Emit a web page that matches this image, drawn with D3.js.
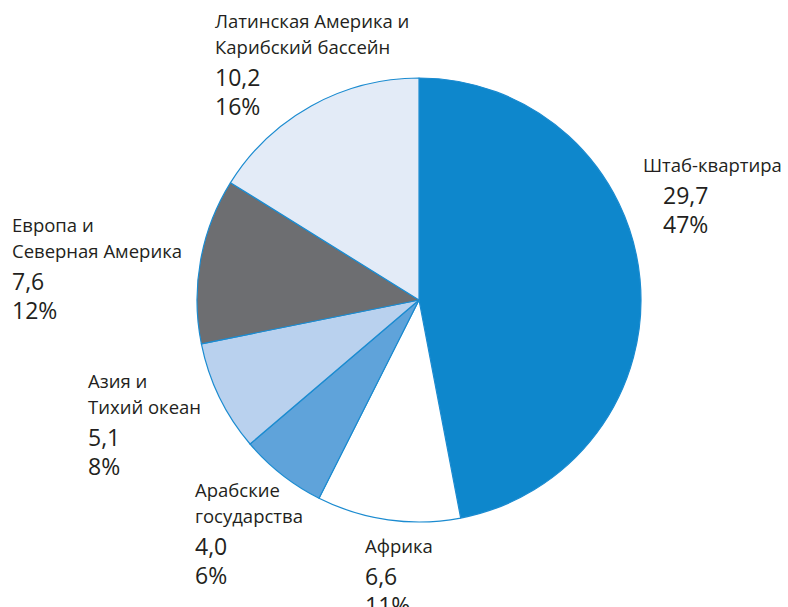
<!DOCTYPE html>
<html>
  <head>
    <meta charset="utf-8">
    <title>Pie</title>
    <script src="https://cdn.jsdelivr.net/npm/d3@7"></script>
    <style>
      body { margin: 0; background: #fff; }
      text { font-family: "Open Sans", "Noto Sans", sans-serif; fill: #231f20; }
    </style>
  </head>
  <body>
    <div id="vis"></div>
    <script>
      // data, clockwise from 12 o'clock
      var regions = [
        ['Штаб-квартира'],
        ['Африка'],
        ['Арабские', 'государства'],
        ['Азия и', 'Тихий океан'],
        ['Европа и', 'Северная Америка'],
        ['Латинская Америка и', 'Карибский бассейн']
      ]
      var values = [29.7, 6.6, 4.0, 5.1, 7.6, 10.2]
      var percents = [47, 11, 6, 8, 12, 16]
      var colors = ['#0e87cc', '#ffffff', '#5fa3da', '#b9d1ee', '#6d6e71', '#e3ebf7']

      // label anchor (x, baseline of first line) and number indent
      var labelPos = [
        {x: 643, y: 172, nx: 663},
        {x: 365, y: 553, nx: 365},
        {x: 195, y: 497, nx: 195},
        {x: 88,  y: 388, nx: 88},
        {x: 12,  y: 232, nx: 12},
        {x: 215, y: 28,  nx: 215}
      ]

      var w = 788, h = 607, cx = 419, cy = 300, r = 222;

      var svg = d3.select("#vis").append("svg")
        .attr('width', w).attr('height', h)

      var pie = d3.pie().sort(null).value(function(d){ return d; })
      var arc = d3.arc().innerRadius(0).outerRadius(r)

      var g = svg.append("g").attr('transform', 'translate(' + cx + ',' + cy + ')')
      g.selectAll("path").data(pie(values)).enter()
        .append("path")
        .attr('d', arc)
        .attr('fill', function(d, i){ return colors[i]; })
        .attr('stroke', '#1b8bd0')
        .attr('stroke-width', 1.2)
        .attr('stroke-linejoin', 'round')

      var fmt = function(v){ return v.toFixed(1).replace('.', ','); }

      var labels = svg.selectAll("g.label").data(regions).enter()
        .append("g").attr('class', 'label')

      labels.each(function(lines, i){
        var el = d3.select(this), p = labelPos[i], y = p.y;
        lines.forEach(function(line, k){
          el.append("text").attr('x', p.x).attr('y', y + k * 26)
            .style('font-size', '18.5px').text(line)
        })
        var ny = y + (lines.length - 1) * 26 + 32
        el.append("text").attr('x', p.nx).attr('y', ny)
          .style('font-size', '23px').text(fmt(values[i]))
        el.append("text").attr('x', p.nx).attr('y', ny + 29)
          .style('font-size', '23px').text(percents[i] + '%')
      })
    </script>
  </body>
</html>
